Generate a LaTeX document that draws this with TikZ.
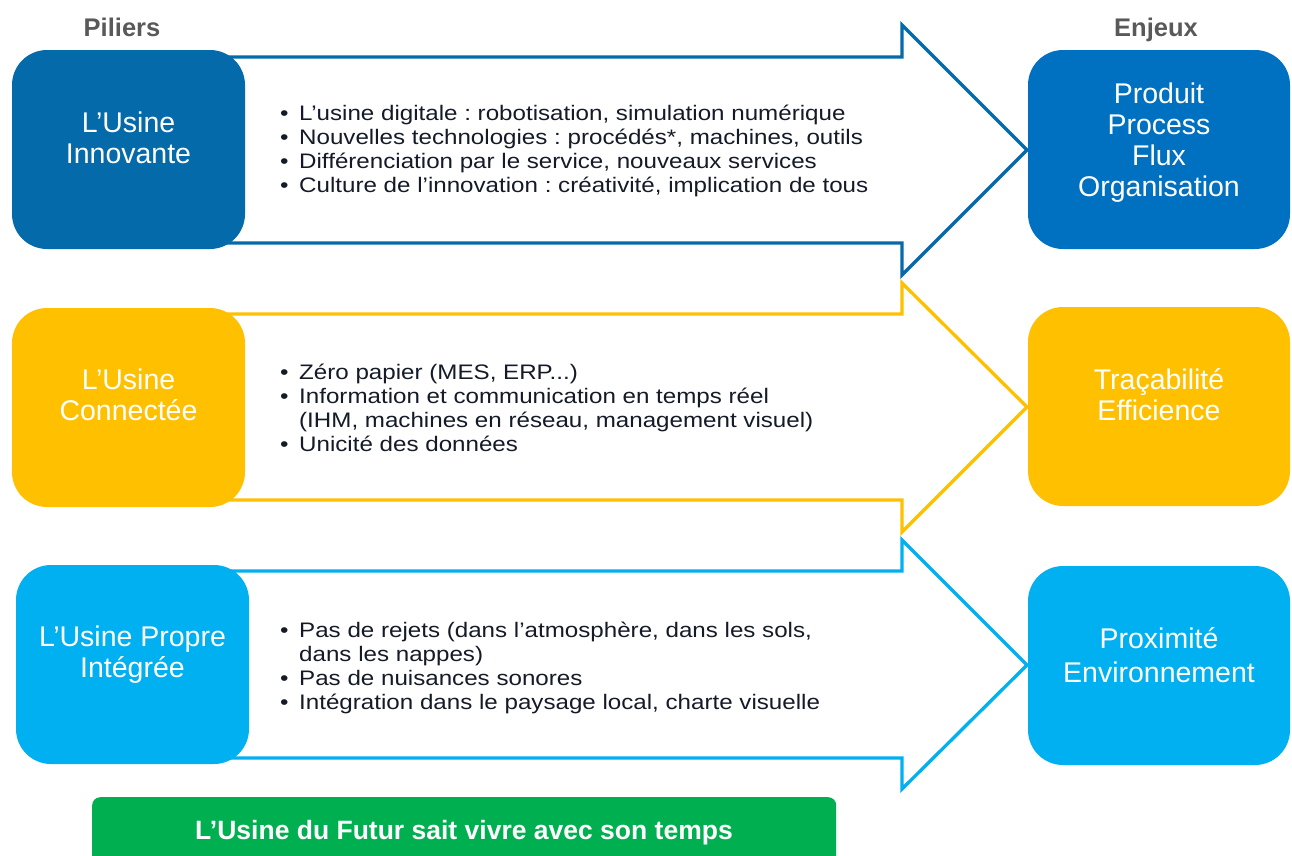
\documentclass[tikz,border=0pt]{standalone}
\usepackage{fontspec}
\setmainfont{Liberation Sans}
\newfontfamily\bulfont[FakeStretch=1.15]{Liberation Sans}
\definecolor{bleuA}{RGB}{4,106,170}
\definecolor{bleuB}{RGB}{0,112,192}
\definecolor{jaune}{RGB}{255,192,0}
\definecolor{ciel}{RGB}{0,176,240}
\definecolor{vert}{RGB}{0,176,80}
\definecolor{titre}{RGB}{89,89,89}
\definecolor{encre}{RGB}{20,26,40}
\newcommand\bul{\makebox[19pt][l]{\textbullet}}
\newcommand\ind{\hspace*{19pt}}
\frenchspacing
\begin{document}
\begin{tikzpicture}[x=1pt,y=-1pt,
  flecheshape/.style={fill=white,line width=3.3pt,line join=miter},
  boite/.style={rectangle,rounded corners=35pt,inner sep=0pt,minimum width=233pt,minimum height=199pt},
  boxtxt/.style={anchor=base,inner sep=0pt,text=white,font=\fontsize{28.5}{31}\selectfont},
  bultxt/.style={anchor=base west,inner sep=0pt,text=encre,font=\bulfont\frenchspacing\fontsize{21}{24}\selectfont},
  entete/.style={anchor=base,inner sep=0pt,text=titre,font=\bfseries\fontsize{25.5}{30}\selectfont}]
\useasboundingbox (0,0) rectangle (1292,855);

% headings
\node[entete] (piliers) at (122,36) {Piliers};
\node[entete] (enjeux) at (1156,36) {Enjeux};

% arrows
\draw[flecheshape,draw=bleuA] (200,57) -- (902,57) -- (902,25) -- (1027,150) -- (902,275) -- (902,243) -- (200,243) -- cycle;
\draw[flecheshape,draw=jaune] (200,314) -- (902,314) -- (902,283) -- (1027,407) -- (902,532) -- (902,500) -- (200,500) -- cycle;
\draw[flecheshape,draw=ciel] (200,571) -- (902,571) -- (902,540) -- (1027,665) -- (902,789) -- (902,758) -- (200,758) -- cycle;

% left boxes
\node[boite,fill=bleuA] (L1) at (128.5,149.5) {};
\node[boite,fill=jaune] (L2) at (128.5,407.5) {};
\node[boite,fill=ciel] (L3) at (132.5,664.5) {};

% right boxes
\node[boite,fill=bleuB,minimum width=262pt] (R1) at (1159,149.5) {};
\node[boite,fill=jaune,minimum width=262pt] (R2) at (1159,406.5) {};
\node[boite,fill=ciel,minimum width=262pt] (R3) at (1159,665.5) {};

% left box texts
\node[boxtxt] (L1t) at (128.5,132) {\parbox[t]{230pt}{\centering L’Usine\\Innovante}};
\node[boxtxt] (L2t) at (128.5,389.3) {\parbox[t]{230pt}{\centering L’Usine\\Connectée}};
\node[boxtxt] (L3t) at (132.5,646.7) {\parbox[t]{230pt}{\centering L’Usine Propre\\Intégrée}};

% right box texts
\node[boxtxt] (R1t) at (1159,103.5) {\parbox[t]{260pt}{\centering Produit\\Process\\Flux\\Organisation}};
\node[boxtxt] (R2t) at (1159,389.3) {\parbox[t]{260pt}{\centering Traçabilité\\Efficience}};
\node[boxtxt,font=\fontsize{28.5}{34}\selectfont] (R3t) at (1159,648.3) {\parbox[t]{260pt}{\centering Proximité\\Environnement}};

% bullet texts
\node[bultxt] (B1) at (280,120.7) {\parbox[t]{620pt}{\raggedright
\bul L’usine digitale : robotisation, simulation numérique\\
\bul Nouvelles technologies : procédés*, machines, outils\\
\bul Différenciation par le service, nouveaux services\\
\bul Culture de l’innovation : créativité, implication de tous}};
\node[bultxt] (B2) at (280,379) {\parbox[t]{620pt}{\raggedright
\bul Zéro papier (MES, ERP...)\\
\bul Information et communication en temps réel\\
\ind (IHM, machines en réseau, management visuel)\\
\bul Unicité des données}};
\node[bultxt] (B3) at (280,637.3) {\parbox[t]{620pt}{\raggedright
\bul Pas de rejets (dans l’atmosphère, dans les sols,\\
\ind dans les nappes)\\
\bul Pas de nuisances sonores\\
\bul Intégration dans le paysage local, charte visuelle}};

% green bar
\node[rectangle,rounded corners=8pt,fill=vert,inner sep=0pt,minimum width=744pt,minimum height=80pt,anchor=north west] (bar) at (92,797) {};
\node[anchor=base,inner sep=0pt,text=white,font=\bfseries\fontsize{26.5}{30}\selectfont] (bart) at (464,839) {L’Usine du Futur sait vivre avec son temps};
\end{tikzpicture}
\end{document}
